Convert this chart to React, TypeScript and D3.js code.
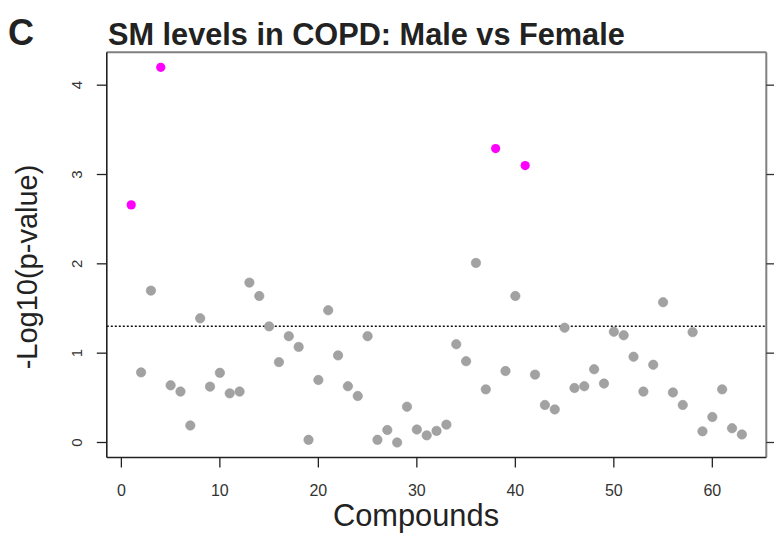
import React from "react";
import * as d3 from "d3";

const compounds: number[] = Array.from({ length: 63 }, (_, i) => i + 1);
const pValuesLog: number[] = [
  2.66, 0.785, 1.70, 4.20, 0.64, 0.57, 0.19, 1.39, 0.625, 0.78,
  0.55, 0.57, 1.79, 1.64, 1.30, 0.90, 1.19, 1.07, 0.03, 0.70,
  1.48, 0.975, 0.63, 0.52, 1.19, 0.03, 0.14, 0.00, 0.40, 0.145,
  0.08, 0.13, 0.20, 1.10, 0.91, 2.01, 0.595, 3.29, 0.80, 1.64,
  3.10, 0.76, 0.42, 0.37, 1.285, 0.61, 0.63, 0.82, 0.66, 1.24,
  1.20, 0.96, 0.57, 0.87, 1.57, 0.56, 0.42, 1.235, 0.125, 0.285,
  0.595, 0.16, 0.09,
];
const significant: number[] = [1, 4, 38, 41];
const xTicks: number[] = [0, 10, 20, 30, 40, 50, 60];
const yTicks: number[] = [0, 1, 2, 3, 4];
const threshold = -Math.log10(0.05);

const FONT = "'Liberation Sans', Arial, sans-serif";

export default function App() {
  const W = 774;
  const H = 536;
  const left = 106.8;
  const right = 766.3;
  const top = 52.3;
  const bottom = 457.5;

  const x = d3.scaleLinear().domain([-1.48, 65.48]).range([left, right]);
  const y = d3.scaleLinear().domain([-0.168, 4.368]).range([bottom, top]);

  const grayPts = compounds.filter((c) => !significant.includes(c));
  const sigPts = compounds.filter((c) => significant.includes(c));

  return (
    <svg
      width={W}
      height={H}
      style={{ position: "absolute", left: 0, top: 0, background: "#fff" }}
      fontFamily={FONT}
    >
      <rect x={0} y={0} width={W} height={H} fill="#fff" />
      <text x={8} y={45} fontSize={36} fontWeight="bold" fill="#222">C</text>
      <text x={108} y={45} fontSize={30.7} fontWeight="bold" fill="#222">
        SM levels in COPD: Male vs Female
      </text>

      {/* threshold */}
      <line
        x1={left}
        x2={right}
        y1={y(threshold)}
        y2={y(threshold)}
        stroke="#111"
        strokeWidth={1.4}
        strokeDasharray="2,2"
      />

      {/* points */}
      {grayPts.map((c) => (
        <circle key={"g" + c} cx={x(c)} cy={y(pValuesLog[c - 1])} r={4.7} fill="#a2a2a2" stroke="#999" strokeWidth={0.6} />
      ))}
      {sigPts.map((c) => (
        <circle key={"s" + c} cx={x(c)} cy={y(pValuesLog[c - 1])} r={4.6} fill="#ff00ff" />
      ))}

      {/* box */}
      <line x1={left} x2={right} y1={top} y2={top} stroke="#808080" strokeWidth={2} />
      <line x1={right} x2={right} y1={top} y2={bottom} stroke="#808080" strokeWidth={2} />
      <line x1={left} x2={left} y1={top} y2={bottom} stroke="#222" strokeWidth={1.6} />
      <line x1={left} x2={right} y1={bottom} y2={bottom} stroke="#222" strokeWidth={1.6} />

      {/* x ticks */}
      {xTicks.map((t) => (
        <g key={"xt" + t}>
          <line x1={x(t)} x2={x(t)} y1={bottom} y2={bottom + 10} stroke="#222" strokeWidth={1.3} />
          <text x={x(t)} y={496} fontSize={16} textAnchor="middle" fill="#333">{t}</text>
        </g>
      ))}

      {/* y ticks left */}
      {yTicks.map((t) => (
        <g key={"yt" + t}>
          <line x1={left - 10} x2={left} y1={y(t)} y2={y(t)} stroke="#222" strokeWidth={1.3} />
          <text
            transform={`translate(${82},${y(t)}) rotate(-90)`}
            fontSize={15}
            textAnchor="middle"
            fill="#333"
          >
            {t}
          </text>
          <line x1={right} x2={right + 8} y1={y(t)} y2={y(t)} stroke="#333" strokeWidth={1.3} />
        </g>
      ))}

      <text x={416} y={526} fontSize={30.8} textAnchor="middle" fill="#222">Compounds</text>
      <text
        transform={`translate(${37},${267}) rotate(-90)`}
        fontSize={29}
        textAnchor="middle"
        fill="#222"
      >
        -Log10(p-value)
      </text>
    </svg>
  );
}
